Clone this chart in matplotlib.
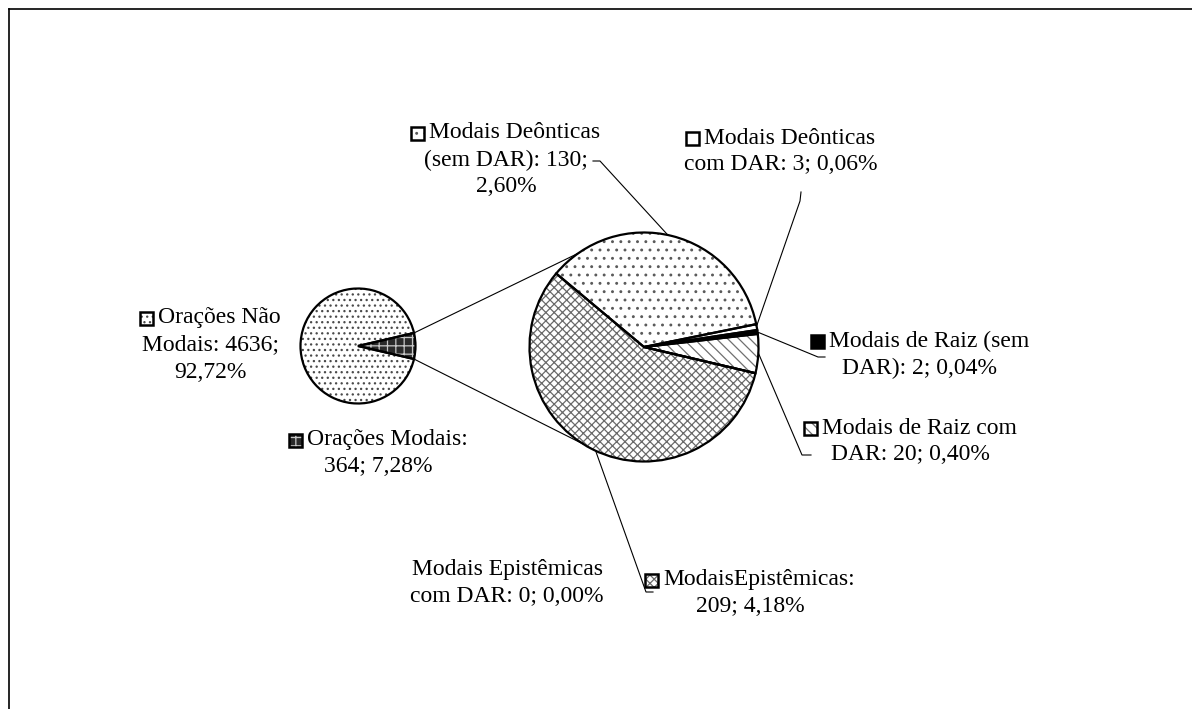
import numpy as np
import matplotlib.pyplot as plt
from matplotlib.patches import Rectangle

plt.rcParams['font.family'] = ['Liberation Serif', 'DejaVu Serif']
plt.rcParams['hatch.linewidth'] = 0.9

W, H = 1192, 709

# first pie: all clauses (the modal slice is split out)
main_labels = ['Orações Modais', 'Orações Não Modais']
main_values = [364, 4636]
main_pct = ['7,28%', '92,72%']

# second pie: breakdown of "Orações Modais", counter-clockwise order
sub_labels = ['Modais Deônticas (sem DAR)', 'ModaisEpistêmicas', 'Modais Epistêmicas com DAR',
              'Modais de Raiz com DAR', 'Modais de Raiz (sem DAR)', 'Modais Deônticas com DAR']
sub_values = [130, 209, 0, 20, 2, 3]
sub_pct = ['2,60%', '4,18%', '0,00%', '0,40%', '0,04%', '0,06%']

# fill styles (face, hatch colour, hatch)
main_styles = [('#2a2a2a', '#c8c8c8', '++'), ('white', '#4a4a4a', '...')]
sub_styles = [('white', '#5a5a5a', '..'), ('white', '#6a6a6a', 'xxxx'), ('white', 'white', ''),
              ('white', '#707070', '\\\\\\'), ('black', 'black', ''), ('white', 'white', '')]


def y(v):
    return H - v


fig = plt.figure(figsize=(W / 100, H / 100), dpi=100)
ax = fig.add_axes([0, 0, 1, 1])

small_c, small_r = np.array([358.0, y(346)]), 57.5
big_c, big_r = np.array([644.0, y(347)]), 114.5


def styled_pie(values, center, radius, start, styles):
    wedges, _ = ax.pie(values, center=center, radius=radius, startangle=start,
                       wedgeprops=dict(linewidth=0))
    for w, (fc, hc, hatch) in zip(wedges, styles):
        w.set_facecolor(fc)
        w.set_edgecolor(hc)
        w.set_hatch(hatch)
    ax.pie(values, center=center, radius=radius, startangle=start,
           wedgeprops=dict(fill=False, edgecolor='black', linewidth=1.6))


half = 180.0 * main_values[0] / sum(main_values)
styled_pie(main_values, small_c, small_r, -half, main_styles)
styled_pie(sub_values, big_c, big_r, 11.5, sub_styles)

ax.set_xlim(0, W)
ax.set_ylim(0, H)
ax.set_aspect('equal')
ax.axis('off')


def on_circle(c, r, ang):
    a = np.radians(ang)
    return c + r * np.array([np.cos(a), np.sin(a)])


# connector lines between the two pies
for a_small, a_big in [(half, 125), (-half, 238)]:
    p, q = on_circle(small_c, small_r, a_small), on_circle(big_c, big_r, a_big)
    ax.plot([p[0], q[0]], [p[1], q[1]], color='black', lw=0.8)

# leader lines: anchor angle on big pie, then elbow points (image coords)
leaders = [
    (78, [(600, 161), (593, 161)]),
    (10.5, [(800, 201), (801, 192)]),
    (7.5, [(818, 357), (825, 357)]),
    (-3, [(802, 455), (811, 455)]),
    (245, [(646, 592), (653, 592)]),
]
for ang, pts in leaders:
    a = on_circle(big_c, big_r, ang)
    xs = [a[0]] + [p[0] for p in pts]
    ys = [a[1]] + [y(p[1]) for p in pts]
    ax.plot(xs, ys, color='black', lw=0.8)

# data labels: (lines, centre x, first line y, style or None)
labels = [
    (['Orações Não', 'Modais: 4636;', '92,72%'], 210, 318, main_styles[1]),
    (['Orações Modais:', '364; 7,28%'], 378, 440, main_styles[0]),
    (['Modais Deônticas', '(sem DAR): 130;', '2,60%'], 506, 133, sub_styles[0]),
    (['Modais Deônticas', 'com DAR: 3; 0,06%'], 781, 138, sub_styles[5]),
    (['Modais de Raiz (sem', 'DAR): 2; 0,04%'], 920, 341, sub_styles[4]),
    (['Modais de Raiz com', 'DAR: 20; 0,40%'], 910, 428, sub_styles[3]),
    (['Modais Epistêmicas', 'com DAR: 0; 0,00%'], 507, 570, None),
    (['ModaisEpistêmicas:', '209; 4,18%'], 750, 580, sub_styles[1]),
]
fs = 17
key, gap, step = 13, 5, 27
fig.canvas.draw()
renderer = fig.canvas.get_renderer()
for lines, cx, y0, style in labels:
    for i, line in enumerate(lines):
        xx = cx
        if i == 0 and style is not None:
            xx = cx + (key + gap) / 2
        t = ax.text(xx, y(y0 + i * step), line, ha='center', va='center', fontsize=fs)
        if i == 0 and style is not None:
            bb = t.get_window_extent(renderer)
            kx, ky = bb.x0 - gap - key, y(y0) - key / 2
            fc, hc, hatch = style
            ax.add_patch(Rectangle((kx, ky), key, key, facecolor=fc, edgecolor=hc,
                                   hatch=hatch, lw=0))
            ax.add_patch(Rectangle((kx, ky), key, key, fill=False, edgecolor='black', lw=1.8))

# outer chart border (top and left edges visible)
ax.plot([8.5, W], [y(8.5), y(8.5)], color='black', lw=1.2, clip_on=False)
ax.plot([8.5, 8.5], [y(8.5), 0], color='black', lw=1.2, clip_on=False)

fig.savefig('out.png', dpi=100, facecolor='white')
